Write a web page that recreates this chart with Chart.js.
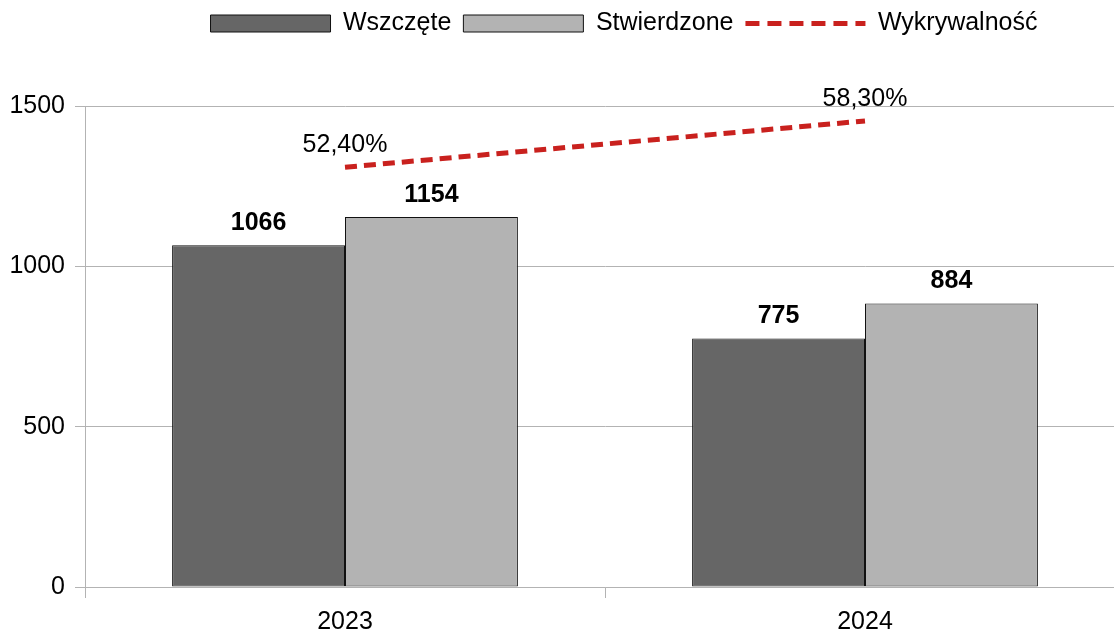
<!DOCTYPE html>
<html lang="pl">
<head>
<meta charset="utf-8">
<title>Wszczęte / Stwierdzone / Wykrywalność</title>
<script src="https://cdn.jsdelivr.net/npm/chart.js@4/dist/chart.umd.min.js"></script>
<style>
    html, body { margin: 0; padding: 0; background: #fff; overflow: hidden; }
    #chart { display: block; }
</style>
</head>
<body>
<canvas id="chart" width="1125" height="633"></canvas>
<script>
// Data
const years = ['2023', '2024'];
const opened = [1066, 775];          // Wszczęte
const confirmed = [1154, 884];       // Stwierdzone
const detection = [52.4, 58.3];      // Wykrywalność, %
const yTicks = [0, 500, 1000, 1500];

const FONT = "'Liberation Sans', Arial, sans-serif";
const RED = '#c9211e';

// Legend: fixed height so the plot starts lower, then nudge it into place
const legendSpacer = {
    id: 'legendSpacer',
    beforeLayout(chart) {
        const legend = chart.legend;
        if (legend && !legend._patched) {
            const origFit = legend.fit;
            legend.fit = function () {
                origFit.call(this);
                this.height = 106;
            };
            legend._patched = true;
        }
    },
    afterLayout(chart) {
        const legend = chart.legend;
        if (!legend) return;
        legend.top -= 1;
        legend.left += 19;
        legend.right += 19;
    }
};

// Value labels above bars and line points
const valueLabels = {
    id: 'valueLabels',
    afterDatasetsDraw(chart) {
        const ctx = chart.ctx;
        ctx.save();
        ctx.fillStyle = '#000';
        ctx.textAlign = 'center';
        ctx.textBaseline = 'middle';
        chart.data.datasets.forEach((ds, i) => {
            const meta = chart.getDatasetMeta(i);
            meta.data.forEach((el, j) => {
                const v = ds.data[j];
                if (ds.type === 'line') {
                    ctx.font = '25px ' + FONT;
                    ctx.fillText(v.toFixed(2).replace('.', ',') + '%', el.x, el.y - 22);
                } else {
                    ctx.font = 'bold 25px ' + FONT;
                    ctx.fillText(String(v), el.x, el.y - 22);
                }
            });
        });
        ctx.restore();
    }
};

new Chart(document.getElementById('chart'), {
    data: {
        labels: years,
        datasets: [
            {
                type: 'bar',
                label: 'Wszczęte',
                data: opened,
                backgroundColor: '#666666',
                borderColor: '#111111',
                borderWidth: 1,
                borderSkipped: false,
                categoryPercentage: 0.665,
                barPercentage: 1,
                order: 1
            },
            {
                type: 'bar',
                label: 'Stwierdzone',
                data: confirmed,
                backgroundColor: '#b3b3b3',
                borderColor: '#111111',
                borderWidth: 1,
                borderSkipped: false,
                categoryPercentage: 0.665,
                barPercentage: 1,
                order: 1
            },
            {
                type: 'line',
                label: 'Wykrywalność',
                data: detection,
                yAxisID: 'y2',
                borderColor: RED,
                backgroundColor: RED,
                borderWidth: 5,
                borderDash: [12, 7],
                pointRadius: 0,
                fill: false,
                tension: 0,
                order: 0
            }
        ]
    },
    options: {
        responsive: false,
        animation: false,
        devicePixelRatio: 1,
        layout: { padding: 0 },
        scales: {
            x: {
                type: 'category',
                offset: true,
                grid: {
                    offset: true,
                    drawOnChartArea: false,
                    drawTicks: true,
                    tickLength: 11,
                    color: '#b3b3b3'
                },
                border: { display: true, color: '#b3b3b3' },
                ticks: {
                    color: '#000',
                    padding: 9,
                    font: { family: FONT, size: 25 }
                },
                afterFit(scale) { scale.height = 46; }
            },
            y: {
                min: 0,
                max: 1500,
                afterBuildTicks(scale) {
                    scale.ticks = yTicks.map(v => ({ value: v }));
                },
                grid: { color: '#b3b3b3', tickLength: 10 },
                border: { display: true, color: '#b3b3b3' },
                ticks: {
                    color: '#000',
                    padding: 10,
                    font: { family: FONT, size: 25 },
                    callback: value => String(value)
                },
                afterFit(scale) { scale.width = 85; }
            },
            y2: {
                display: false,
                min: -1.1,
                max: 60.2
            }
        },
        plugins: {
            tooltip: { enabled: false },
            legend: {
                position: 'top',
                fullSize: false,
                align: 'center',
                labels: {
                    usePointStyle: true,
                    pointStyleWidth: 120,
                    boxWidth: 120,
                    boxHeight: 17,
                    padding: 12,
                    color: '#000',
                    font: { family: FONT, size: 25 },
                    generateLabels(chart) {
                        return chart.data.datasets.map((ds, i) => ({
                            text: ds.label,
                            datasetIndex: i,
                            hidden: false,
                            fontColor: '#000',
                            fillStyle: ds.backgroundColor,
                            strokeStyle: ds.type === 'line' ? RED : '#111111',
                            lineWidth: ds.type === 'line' ? 5 : 1,
                            lineDash: ds.type === 'line' ? [14, 8] : [],
                            pointStyle: ds.type === 'line' ? 'line' : 'rect'
                        }));
                    }
                }
            }
        }
    },
    plugins: [legendSpacer, valueLabels]
});
</script>
</body>
</html>
